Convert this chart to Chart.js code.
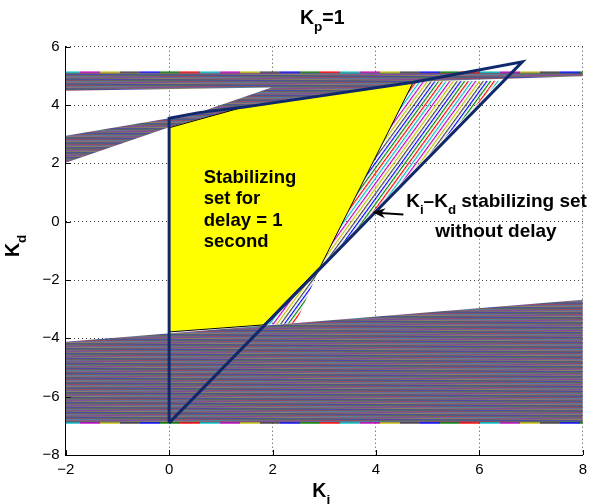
<!DOCTYPE html>
<html lang="en">
<head>
  <meta charset="UTF-8">
  <title>Kp = 1 stabilizing sets</title>
  <script src="https://cdn.jsdelivr.net/npm/chart.js"></script>
  <style>
    body { margin: 0; background: #fff; }
    canvas { display: block; }
  </style>
</head>
<body>
  <canvas id="grafico" width="593" height="504"></canvas>

  <script>
    // axis ticks
    const xTicks = [-2, 0, 2, 4, 6, 8];
    const yTicks = [-8, -6, -4, -2, 0, 2, 4, 6];

    // Ki-Kd fan of lines, upper part (outline of the bundle)
    const upperBandKi = [-2, 8, 8, 4.72, 1.42, 0, -2, -2, 0, 0.575, 1.98, -2];
    const upperBandKd = [5.12, 5.12, 4.99, 4.8, 3.92, 3.24, 2.02, 2.95, 3.55, 3.74, 4.6, 4.49];

    // lower part of the bundle
    const lowerBandKi = [-2, 8, 8, -2];
    const lowerBandKd = [-4.12, -2.68, -6.9, -6.9];

    // steep fan between the two sets
    const fanKi = [4.72, 6.4, 2.93, 2.45, 1.82, 2.93];
    const fanKd = [4.8, 4.83, -1.52, -3.47, -3.54, -1.52];

    // stabilizing set with delay = 1 s
    const delaySetKi = [0, 1.42, 4.72, 2.93, 1.82, 0];
    const delaySetKd = [3.22, 3.92, 4.78, -1.52, -3.54, -3.78];

    // stabilizing set without delay
    const noDelayKi = [0, 0, 0.575, 1.42, 4.72, 6.83, 0];
    const noDelayKd = [-6.9, 3.55, 3.74, 3.92, 4.78, 5.48, -6.9];

    // dashed edges of the bundle
    const edgeKi = [-2, 8];
    const topEdgeKd = [5.12, 5.12];
    const bottomEdgeKd = [-6.9, -6.9];

    const FUENTE = '"Liberation Sans", Arial, Helvetica, sans-serif';
    const coloresMatlab = ['#0000ff', '#008000', '#ff0000', '#00bfbf', '#bf00bf', '#bfbf00', '#404040'];

    const canvas = document.getElementById('grafico');
    const ctx = canvas.getContext('2d');

    function puntos(xs, ys) {
      return xs.map((x, i) => ({ x: x, y: ys[i] }));
    }

    // stripes of matlab colours, used as fill of the line bundles
    function patronRayas(grueso, hueco, angulo, escala, alfa, fondo) {
      const tile = document.createElement('canvas');
      const periodo = grueso + hueco;
      tile.width = 8;
      tile.height = periodo * coloresMatlab.length;
      const g = tile.getContext('2d');
      if (fondo) {
        g.fillStyle = fondo;
        g.fillRect(0, 0, tile.width, tile.height);
      }
      g.globalAlpha = alfa;
      coloresMatlab.forEach((c, i) => {
        g.fillStyle = c;
        g.fillRect(0, i * periodo, 8, grueso);
      });
      const p = ctx.createPattern(tile, 'repeat');
      p.setTransform(new DOMMatrix().rotate(angulo).scale(1, escala));
      return p;
    }

    function patronGuiones(largo) {
      const tile = document.createElement('canvas');
      tile.width = largo * coloresMatlab.length;
      tile.height = 4;
      const g = tile.getContext('2d');
      g.globalAlpha = 0.7;
      coloresMatlab.forEach((c, i) => {
        g.fillStyle = c;
        g.fillRect(i * largo, 0, largo, 4);
      });
      return ctx.createPattern(tile, 'repeat');
    }

    const rayasBanda = patronRayas(1, 0, 0.4, 0.7, 0.3, '#70688a');
    const rayasAbanico = patronRayas(1.2, 1.8, -54, 1, 1);
    const guiones = patronGuiones(20);

    // text with TeX-like subscripts: [['K'], ['p', true], ['=1']]
    function textoRico(c, partes, x, y, tam, alin) {
      const sub = tam * 0.7;
      let ancho = 0;
      partes.forEach(p => {
        c.font = 'bold ' + (p[1] ? sub : tam) + 'px ' + FUENTE;
        ancho += c.measureText(p[0]).width;
      });
      let cx = alin === 'center' ? x - ancho / 2 : x;
      c.textAlign = 'left';
      c.textBaseline = 'alphabetic';
      partes.forEach(p => {
        c.font = 'bold ' + (p[1] ? sub : tam) + 'px ' + FUENTE;
        c.fillText(p[0], cx, y + (p[1] ? tam * 0.38 : 0));
        cx += c.measureText(p[0]).width;
      });
    }

    const anotaciones = {
      id: 'anotaciones',
      afterDraw(chart) {
        const c = chart.ctx;
        const sx = chart.scales.x, sy = chart.scales.y;
        const area = chart.chartArea;
        const px = v => sx.getPixelForValue(v);
        const py = v => sy.getPixelForValue(v);
        c.save();
        c.fillStyle = '#000';
        c.strokeStyle = '#000';

        // inward tick marks
        c.lineWidth = 1;
        c.beginPath();
        xTicks.forEach(v => {
          const x = Math.round(px(v)) + 0.5;
          c.moveTo(x, area.bottom); c.lineTo(x, area.bottom - 5);
        });
        yTicks.forEach(v => {
          const y = Math.round(py(v)) + 0.5;
          c.moveTo(area.left, y); c.lineTo(area.left + 5, y);
        });
        c.stroke();

        // title and axis labels
        const centro = (area.left + area.right) / 2;
        textoRico(c, [['K'], ['p', true], ['=1']], centro - 2, 24, 19.5, 'center');
        textoRico(c, [['K'], ['i', true]], centro - 3, 497, 19.5, 'center');
        c.save();
        c.translate(19, (area.top + area.bottom) / 2 - 5);
        c.rotate(-Math.PI / 2);
        textoRico(c, [['K'], ['d', true]], 0, 0, 19.5, 'center');
        c.restore();

        // annotation inside the yellow set
        const lineas = ['Stabilizing', 'set for', 'delay = 1', 'second'];
        c.font = 'bold 18.5px ' + FUENTE;
        c.textAlign = 'left';
        lineas.forEach((t, i) => c.fillText(t, px(0.67), py(1.33) + i * 21.5));

        // annotation for the set without delay
        textoRico(c, [['K'], ['i', true], ['\u2013K'], ['d', true], [' stabilizing set']], px(4.584), py(0.505), 19, 'left');
        textoRico(c, [['without delay']], px(6.32), py(-0.523), 19, 'center');

        // arrow
        const ax = px(4.53), ay = py(0.25), bx = px(3.93), by = py(0.32);
        const d = Math.hypot(bx - ax, by - ay);
        const ux = (bx - ax) / d, uy = (by - ay) / d;
        c.lineWidth = 2;
        c.beginPath();
        c.moveTo(ax, ay);
        c.lineTo(bx - ux * 8, by - uy * 8);
        c.stroke();
        c.beginPath();
        c.moveTo(bx, by);
        c.lineTo(bx - ux * 13 - uy * 5, by - uy * 13 + ux * 5);
        c.lineTo(bx - ux * 9, by - uy * 9);
        c.lineTo(bx - ux * 13 + uy * 5, by - uy * 13 - ux * 5);
        c.closePath();
        c.fill();
        c.restore();
      }
    };

    const etiquetaTick = v => String(v).replace('-', '\u2212');

    new Chart(ctx, {
      type: 'scatter',
      data: {
        datasets: [
          { data: puntos(lowerBandKi, lowerBandKd), showLine: true, fill: 'shape', backgroundColor: rayasBanda, borderWidth: 0, pointRadius: 0, order: 10 },
          { data: puntos(upperBandKi, upperBandKd), showLine: true, fill: 'shape', backgroundColor: rayasBanda, borderWidth: 0, pointRadius: 0, order: 10 },
          { data: puntos(fanKi, fanKd), showLine: true, fill: 'shape', backgroundColor: rayasAbanico, borderWidth: 0, pointRadius: 0, order: 9 },
          { data: puntos(delaySetKi, delaySetKd), showLine: true, fill: 'shape', backgroundColor: '#ffff00', borderColor: '#000000', borderWidth: 1, pointRadius: 0, order: 8 },
          { data: puntos(edgeKi, topEdgeKd), showLine: true, fill: false, borderColor: guiones, borderWidth: 2, pointRadius: 0, order: 7 },
          { data: puntos(edgeKi, bottomEdgeKd), showLine: true, fill: false, borderColor: guiones, borderWidth: 2, pointRadius: 0, order: 7 },
          { data: puntos(noDelayKi, noDelayKd), showLine: true, fill: false, borderColor: '#10296b', borderWidth: 3, borderJoinStyle: 'miter', pointRadius: 0, order: 1 }
        ]
      },
      options: {
        responsive: false,
        animation: false,
        events: [],
        layout: { padding: { left: 0, right: 5.5, top: 46.7, bottom: 0 }, autoPadding: false },
        plugins: {
          legend: { display: false },
          tooltip: { enabled: false },
          title: { display: false }
        },
        scales: {
          x: {
            type: 'linear',
            min: -2,
            max: 8,
            afterBuildTicks: s => { s.ticks = xTicks.map(v => ({ value: v })); },
            afterFit: s => { s.height = 49; },
            ticks: { color: '#000', padding: 6, maxRotation: 0, font: { family: FUENTE, size: 15 }, callback: etiquetaTick },
            grid: { color: 'rgba(0,0,0,0.75)', lineWidth: 1, drawTicks: false },
            border: { display: true, color: '#000', width: 1, dash: [1, 3] }
          },
          y: {
            type: 'linear',
            min: -8,
            max: 6,
            afterBuildTicks: s => { s.ticks = yTicks.map(v => ({ value: v })); },
            afterFit: s => { s.width = 65.7; },
            ticks: { color: '#000', padding: 6, font: { family: FUENTE, size: 15 }, callback: etiquetaTick },
            grid: { color: 'rgba(0,0,0,0.75)', lineWidth: 1, drawTicks: false },
            border: { display: true, color: '#000', width: 1, dash: [1, 3] }
          }
        }
      },
      plugins: [anotaciones]
    });
  </script>
</body>
</html>
